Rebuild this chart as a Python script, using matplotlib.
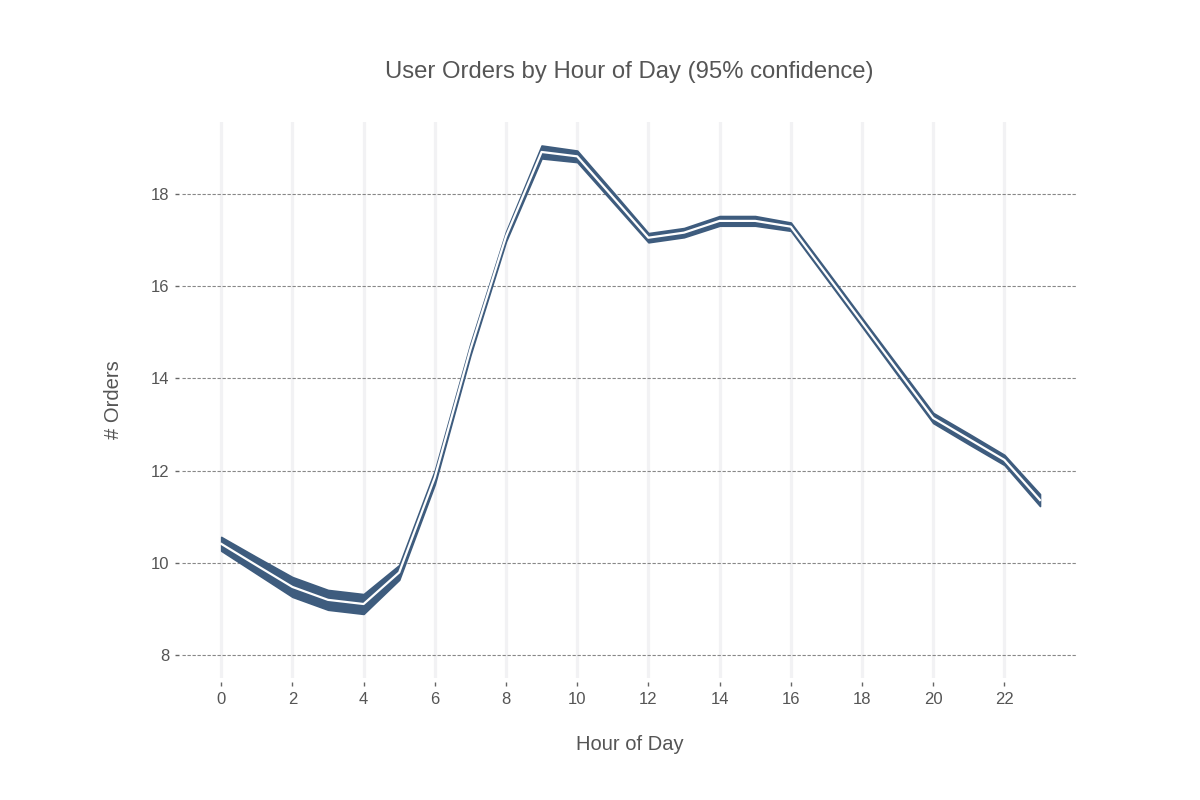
import numpy as np
import matplotlib.pyplot as plt

plt.rcParams['font.family'] = ['Liberation Sans', 'DejaVu Sans']

hours = list(range(24))
upper = [10.56, 10.12, 9.69, 9.41, 9.32, 9.95, 12.00, 14.75, 17.18, 19.05, 18.94, 18.05,
         17.15, 17.26, 17.52, 17.52, 17.38, 16.35, 15.31, 14.28, 13.25, 12.80, 12.34, 11.49]
lower = [10.26, 9.76, 9.26, 8.98, 8.89, 9.63, 11.70, 14.50, 16.97, 18.77, 18.69, 17.82,
         16.95, 17.06, 17.31, 17.31, 17.20, 16.16, 15.12, 14.07, 13.03, 12.57, 12.12, 11.23]
mean = [(u + l) / 2 for u, l in zip(upper, lower)]

fill_color = '#3e5c7e'
text_color = '#555555'

fig = plt.figure(figsize=(12, 8), dpi=100)
ax = fig.add_axes([0.1517, 0.1525, 0.7458, 0.695])

# grille
for h in range(0, 24, 2):
    ax.axvline(h, color='#f2f2f4', lw=2.3, zorder=0)
ax.yaxis.grid(True, color='#888888', lw=0.8, ls=(0, (3, 1.5)), zorder=1)
ax.set_axisbelow(True)

ax.fill_between(hours, lower, upper, color=fill_color, lw=1.2, edgecolor=fill_color, zorder=2)
ax.plot(hours, mean, color='white', lw=1.6, zorder=3)

ax.set_xlim(-1.1, 24.04)
ax.set_ylim(7.5, 19.56)
ax.set_xticks(range(0, 24, 2))
ax.set_yticks(range(8, 20, 2))

for s in ax.spines.values():
    s.set_visible(False)
ax.spines['left'].set_position(('outward', 2))
ax.spines['bottom'].set_position(('outward', 3))
ax.tick_params(axis='both', length=3, width=1, color='#666666', labelcolor=text_color,
               labelsize=12, pad=4)

ax.set_title('User Orders by Hour of Day (95% confidence)', fontsize=17.2, color=text_color, pad=32)
ax.set_xlabel('Hour of Day', fontsize=14.5, color=text_color, labelpad=20)
ax.set_ylabel('# Orders', fontsize=14.5, color=text_color, labelpad=20)

fig.savefig('out.png', dpi=100)
